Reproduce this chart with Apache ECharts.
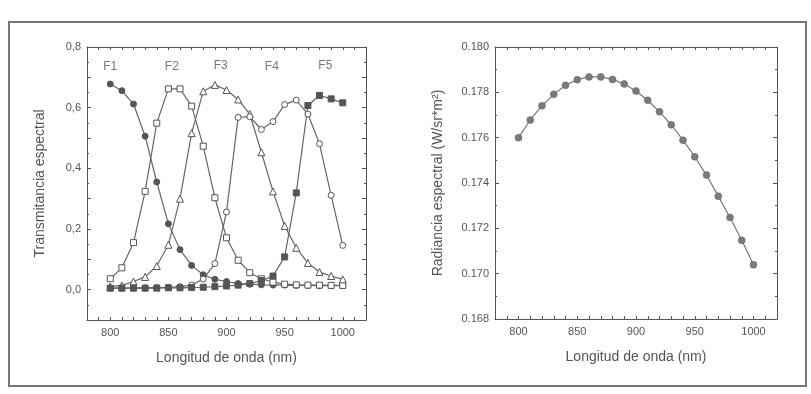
<!DOCTYPE html>
<html>
<head>
<meta charset="utf-8">
<script src="https://cdn.jsdelivr.net/npm/echarts@6/dist/echarts.min.js"></script>
<style>
  html, body { margin: 0; padding: 0; background: #fff; }
  #chart { width: 811px; height: 394px; }
</style>
</head>
<body>
<div id="chart"></div>
<script>
// longitudes de onda (nm)
var wavelengths = [800, 810, 820, 830, 840, 850, 860, 870, 880, 890, 900,
                   910, 920, 930, 940, 950, 960, 970, 980, 990, 1000];

// transmitancia de los filtros F1..F5
var f1 = [0.678, 0.656, 0.612, 0.506, 0.355, 0.217, 0.132, 0.080, 0.049, 0.034, 0.027,
          0.020, 0.018, 0.016, 0.015, 0.015, 0.014, 0.014, 0.013, 0.013, 0.013];
var f2 = [0.036, 0.072, 0.155, 0.324, 0.549, 0.662, 0.662, 0.605, 0.473, 0.303, 0.171,
          0.097, 0.056, 0.036, 0.025, 0.018, 0.016, 0.015, 0.015, 0.014, 0.014];
var f3 = [0.010, 0.014, 0.027, 0.042, 0.078, 0.148, 0.300, 0.516, 0.654, 0.675, 0.658,
          0.627, 0.579, 0.453, 0.324, 0.210, 0.138, 0.088, 0.058, 0.045, 0.034];
var f4 = [0.005, 0.005, 0.006, 0.006, 0.007, 0.008, 0.010, 0.015, 0.035, 0.086, 0.256,
          0.568, 0.570, 0.528, 0.554, 0.610, 0.625, 0.579, 0.481, 0.311, 0.146];
var f5 = [0.005, 0.005, 0.005, 0.005, 0.005, 0.006, 0.006, 0.007, 0.008, 0.010, 0.012,
          0.015, 0.020, 0.030, 0.045, 0.108, 0.319, 0.607, 0.640, 0.629, 0.616];

// radiancia espectral (W/sr*m2)
var radiance = [0.17600, 0.17678, 0.17741, 0.17791, 0.17831, 0.17856, 0.17868, 0.17868,
                0.17857, 0.17837, 0.17806, 0.17765, 0.17714, 0.17657, 0.17589, 0.17516,
                0.17435, 0.17342, 0.17248, 0.17147, 0.17039];

// etiquetas de los filtros
var filterNames = ["F1", "F2", "F3", "F4", "F5"];
var filterLabelX = [800, 853, 895, 939, 985];
var filterLabelY = [0.734, 0.734, 0.737, 0.734, 0.737];

var lineColor = "#666";
var textColor = "#555";
var font = "Liberation Sans, Arial, sans-serif";

function pairs(ys) {
  return wavelengths.map(function (x, i) { return [x, ys[i]]; });
}

function xAxisDef(gridIndex, pos, showLabels, name) {
  return {
    type: "value", gridIndex: gridIndex, position: pos,
    min: 780, max: 1020, interval: 10,
    name: name, nameLocation: "middle", nameGap: 31,
    nameTextStyle: { color: textColor, fontSize: 14, fontFamily: font },
    axisLine: { show: true, onZero: false, lineStyle: { color: "#555", width: 1 } },
    axisTick: { show: true, inside: true, length: 3, lineStyle: { color: "#555" } },
    axisLabel: {
      show: showLabels, color: textColor, fontSize: 11, fontFamily: font, margin: 7,
      formatter: function (v) { return v % 50 === 0 ? String(v) : ""; }
    },
    splitLine: { show: false }
  };
}

function yAxisDef(gridIndex, pos, showLabels, name, min, max, interval, fmt, gap) {
  return {
    type: "value", gridIndex: gridIndex, position: pos,
    min: min, max: max, interval: interval,
    name: name, nameLocation: "middle", nameGap: gap,
    nameTextStyle: { color: textColor, fontSize: 14, fontFamily: font },
    axisLine: { show: true, onZero: false, lineStyle: { color: "#555", width: 1 } },
    axisTick: { show: true, inside: true, length: 4, lineStyle: { color: "#555" } },
    minorTick: { show: true, splitNumber: 2, length: 2, lineStyle: { color: "#555" } },
    axisLabel: { show: showLabels, color: textColor, fontSize: 11, fontFamily: font, margin: 6, formatter: fmt },
    splitLine: { show: false }
  };
}

function filterSeries(name, ys, symbol, filled) {
  return {
    name: name, type: "line", xAxisIndex: 0, yAxisIndex: 0,
    data: pairs(ys),
    symbol: symbol, symbolSize: symbol === "triangle" ? 7 : 6,
    showAllSymbol: true,
    lineStyle: { color: lineColor, width: 1.2 },
    itemStyle: { color: filled ? "#555" : "#fff", borderColor: "#555", borderWidth: 1 },
    z: 3
  };
}

var chart = echarts.init(document.getElementById("chart"));

var option = {
  backgroundColor: "#fff",
  animation: false,
  graphic: [{
    type: "rect",
    shape: { x: 9, y: 22, width: 797, height: 364 },
    style: { fill: "none", stroke: "#777", lineWidth: 2 }
  }],
  grid: [
    { left: 87, top: 47, width: 279, height: 273 },
    { left: 495, top: 47, width: 282, height: 272 }
  ],
  xAxis: [
    xAxisDef(0, "bottom", true, "Longitud de onda (nm)"),
    xAxisDef(0, "top", false, ""),
    xAxisDef(1, "bottom", true, "Longitud de onda (nm)"),
    xAxisDef(1, "top", false, "")
  ],
  yAxis: [
    yAxisDef(0, "left", true, "Transmitancia espectral", -0.1, 0.8, 0.1, function (v) {
      var k = Math.round(v * 10);
      return k % 2 === 0 ? (k / 10).toFixed(1).replace(".", ",") : "";
    }, 40),
    yAxisDef(0, "right", false, "", -0.1, 0.8, 0.1, null, 10),
    yAxisDef(1, "left", true, "Radiancia espectral (W/sr*m²)", 0.168, 0.180, 0.002, function (v) {
      return v.toFixed(3);
    }, 50),
    yAxisDef(1, "right", false, "", 0.168, 0.180, 0.002, null, 10)
  ],
  series: [
    filterSeries("F1", f1, "circle", true),
    filterSeries("F2", f2, "rect", false),
    filterSeries("F3", f3, "triangle", false),
    filterSeries("F4", f4, "circle", false),
    filterSeries("F5", f5, "rect", true),
    {
      name: "labels", type: "scatter", xAxisIndex: 0, yAxisIndex: 0,
      symbolSize: 0, silent: true,
      data: filterNames.map(function (n, i) { return { value: [filterLabelX[i], filterLabelY[i]], name: n }; }),
      label: {
        show: true, position: "inside", formatter: "{b}",
        color: textColor, fontSize: 12, fontFamily: font
      }
    },
    {
      name: "Radiancia", type: "line", xAxisIndex: 2, yAxisIndex: 2,
      data: pairs(radiance),
      symbol: "circle", symbolSize: 7, showAllSymbol: true,
      lineStyle: { color: "#777", width: 1.2 },
      itemStyle: { color: "#7a7a7a", borderColor: "#666", borderWidth: 0.5 }
    }
  ]
};

chart.setOption(option);
</script>
</body>
</html>
